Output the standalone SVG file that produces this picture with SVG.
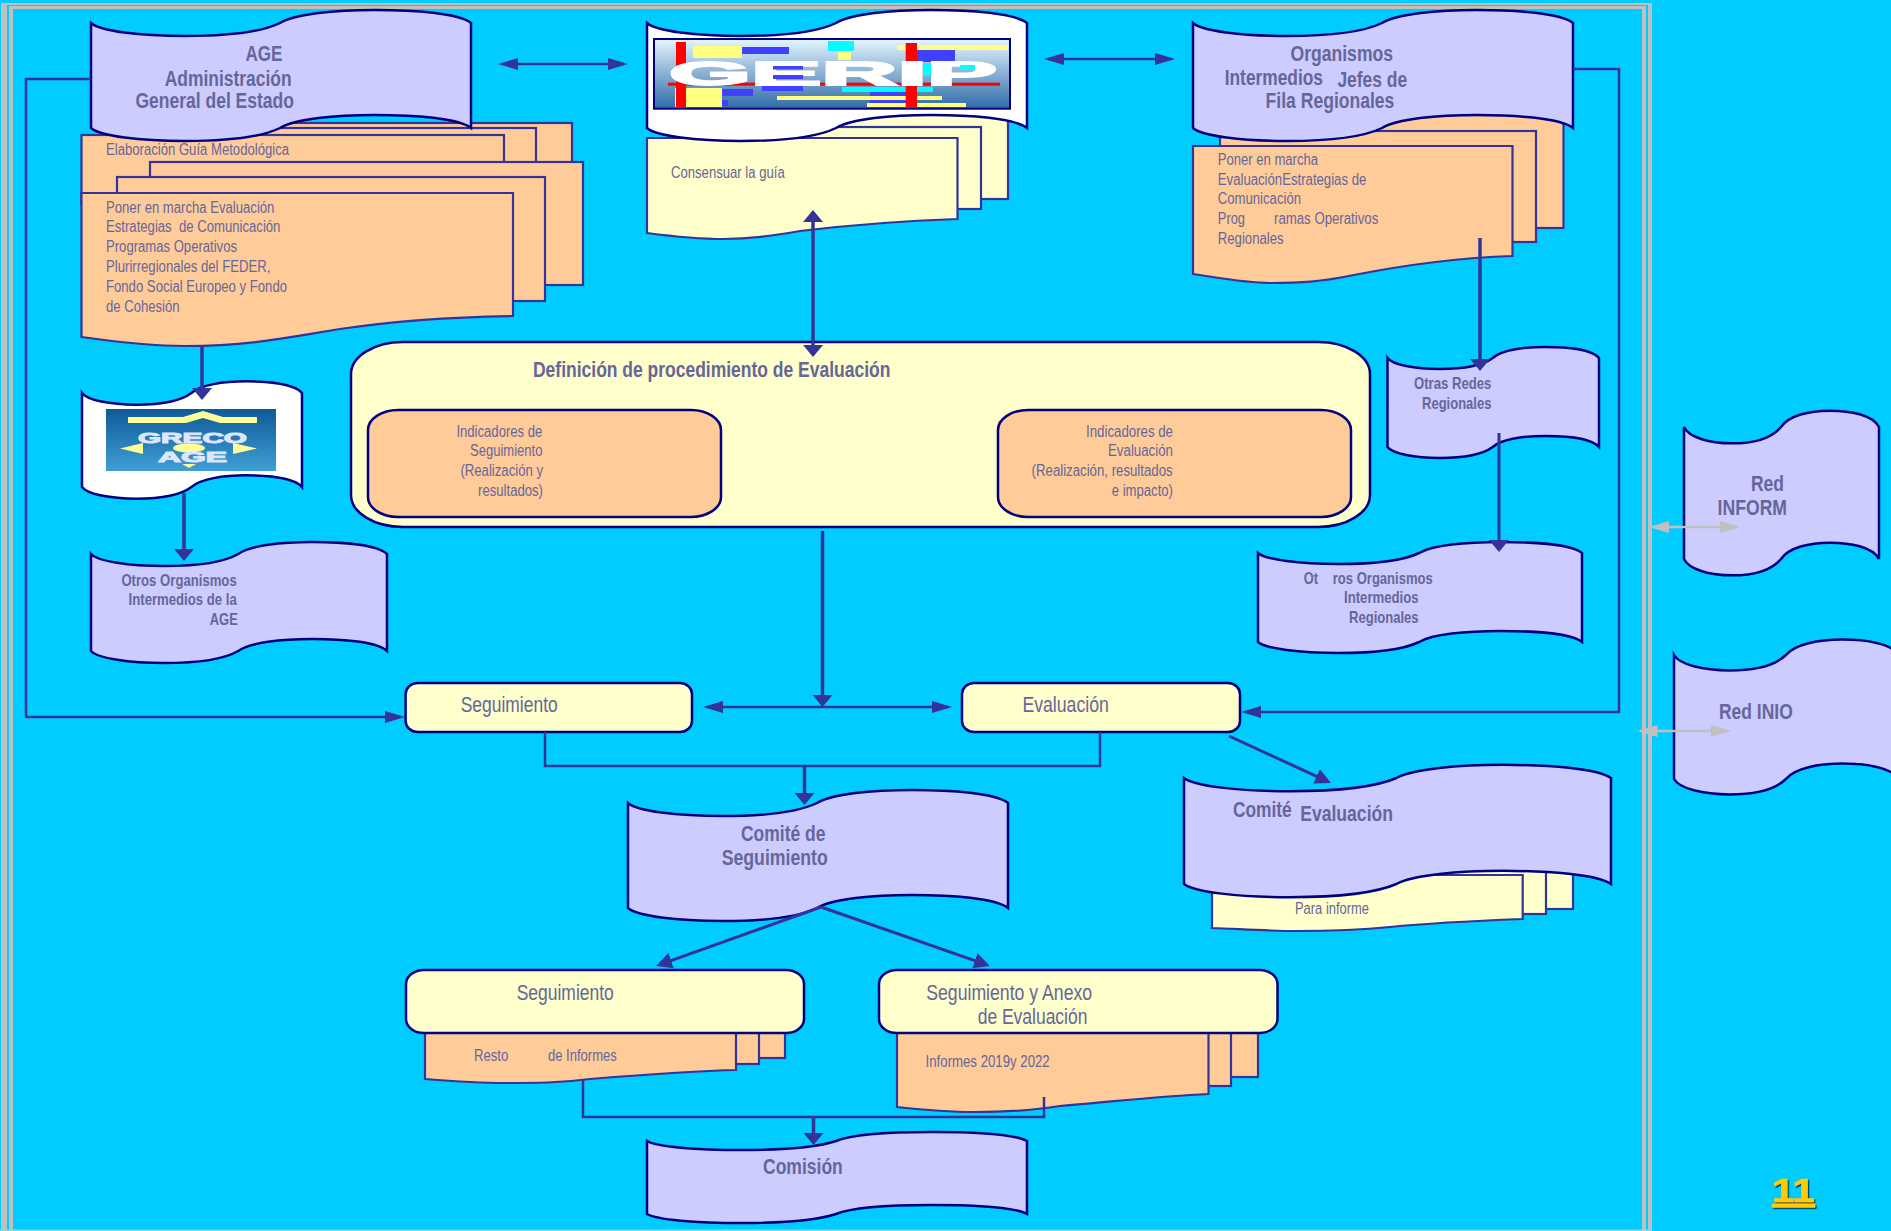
<svg xmlns="http://www.w3.org/2000/svg" width="1891" height="1231" viewBox="0 0 1891 1231">
<style>
text{font-family:"Liberation Sans",Arial,sans-serif;fill:#666699;white-space:pre}
.h{font-size:22px;font-weight:bold}
.m{font-size:17px;font-weight:bold}
.d{font-size:22px}
.s{font-size:16px}
.lav{fill:#ccccff;stroke:#000080;stroke-width:2.5}
.wht{fill:#ffffff;stroke:#000080;stroke-width:2.5}
.org{fill:#ffcc99;stroke:#333399;stroke-width:2.2}
.yel{fill:#ffffcc;stroke:#333399;stroke-width:2.2}
.box-y{fill:#ffffcc;stroke:#000080;stroke-width:2.5}
.box-o{fill:#ffcc99;stroke:#000080;stroke-width:2.5}
.c{fill:none;stroke:#333399;stroke-width:2.5}
.t{fill:none;stroke:#333399;stroke-width:3.5}
.g{fill:none;stroke:#c0c0c0;stroke-width:2.5}
.fr{fill:#c0c0c0}
</style>
<defs>
<path id="wave" vector-effect="non-scaling-stroke" d="M0,0c2.4,7.7 12.8,12.4 24.74,12.4c10.5,0 19.7,-3.1 25,-12.4c4,-8.7 14.5,-12.4 25,-12.4c10.5,0 22,3.1 25.26,12.4v100c-3.3,-9.3 -14.8,-12.4 -25.26,-12.4c-10.5,0 -21,3.7 -25,12.4c-5.3,9.3 -14.5,12.4 -25,12.4c-11.9,0 -22.3,-4.7 -24.74,-12.4z"/>
<marker id="hv" markerUnits="userSpaceOnUse" markerWidth="12" markerHeight="20" refX="8" refY="10" orient="auto-start-reverse"><path d="M0,0L12,10L0,20z" fill="#333399"/></marker>
<marker id="hh" markerUnits="userSpaceOnUse" markerWidth="20" markerHeight="12" refX="16" refY="6" orient="auto-start-reverse"><path d="M0,0L20,6L0,12z" fill="#333399"/></marker>
<marker id="hd" markerUnits="userSpaceOnUse" markerWidth="16" markerHeight="16" refX="12" refY="8" orient="auto-start-reverse"><path d="M0,0L16,8L0,16z" fill="#333399"/></marker>
<marker id="hg" markerUnits="userSpaceOnUse" markerWidth="20" markerHeight="12" refX="16" refY="6" orient="auto-start-reverse"><path d="M0,0L20,6L0,12z" fill="#c0c0c0"/></marker>
<linearGradient id="gerip" x1="0" y1="0" x2="0" y2="1"><stop offset="0" stop-color="#e4f6ff"/><stop offset=".55" stop-color="#7fa9cf"/><stop offset="1" stop-color="#2f6aa6"/></linearGradient>
<linearGradient id="greco" x1="0" y1="0" x2="0" y2="1"><stop offset="0" stop-color="#0f5a98"/><stop offset="1" stop-color="#3f9fd4"/></linearGradient>
<filter id="sh" x="-20%" y="-20%" width="140%" height="140%"><feDropShadow dx="1.3" dy="1.3" stdDeviation="0.2" flood-color="#003050"/></filter>
<filter id="gl" x="-5%" y="-10%" width="110%" height="120%"><feDropShadow dx="0" dy="0" stdDeviation="0.7" flood-color="#6f7f90"/></filter>
</defs>
<rect width="1891" height="1231" fill="#00ccff"/>
<g id="frame">
<path class="fr" d="M1,3H1652V1231H1648V5H7V1231H1z"/>
<path class="fr" d="M9,6H1646V1231H1642V9H13V1231H9z"/>
<rect x="0" y="1229.5" width="1652" height="1.5" fill="#7fd9f0"/>
</g>

<g id="node-age-docs">
<rect class="org" x="260" y="123" width="312" height="50"/>
<rect class="org" x="200" y="128" width="336" height="50"/>
<rect class="org" x="81.5" y="135" width="422.5" height="70"/>
<text class="s" x="106" y="155" textLength="183" lengthAdjust="spacingAndGlyphs">Elaboración Guía Metodológica</text>
<rect class="org" x="150" y="162" width="433" height="123"/>
<rect class="org" x="117" y="177" width="428" height="124"/>
<path class="org" d="M81.5,193H513V316C450,317 400,320 340,329C290,337 250,346 185,346C150,346 110,341 81.5,337Z"/>
<text class="s" x="106" y="213" textLength="168.4" lengthAdjust="spacingAndGlyphs">Poner en marcha Evaluación</text>
<text class="s" x="106" y="232.3" textLength="174.4" lengthAdjust="spacingAndGlyphs">Estrategias  de Comunicación</text>
<text class="s" x="106" y="252" textLength="131" lengthAdjust="spacingAndGlyphs">Programas Operativos</text>
<text class="s" x="106" y="272" textLength="164.4" lengthAdjust="spacingAndGlyphs">Plurirregionales del FEDER,</text>
<text class="s" x="106" y="291.7" textLength="181" lengthAdjust="spacingAndGlyphs">Fondo Social Europeo y Fondo</text>
<text class="s" x="106" y="311.7" textLength="73.6" lengthAdjust="spacingAndGlyphs">de Cohesión</text>
</g>
<g id="node-age">
<use href="#wave" class="lav" transform="translate(91,23) scale(3.8,1.05)"/>
<text class="h" x="245.5" y="61" textLength="37" lengthAdjust="spacingAndGlyphs">AGE</text>
<text class="h" x="164.7" y="85.7" textLength="127" lengthAdjust="spacingAndGlyphs">Administración</text>
<text class="h" x="135.4" y="108" textLength="158.6" lengthAdjust="spacingAndGlyphs">General del Estado</text>
</g>

<g id="node-gerip-docs">
<rect class="yel" x="760" y="110" width="248" height="89"/>
<rect class="yel" x="700" y="127" width="281" height="82"/>
<path class="yel" d="M647,138H957.5V219C900,221 850,225 800,231C770,236 750,239 724,239C700,239 670,236 647,233Z"/>
<text class="s" x="671" y="178.3" textLength="113.7" lengthAdjust="spacingAndGlyphs">Consensuar la guía</text>
</g>
<g id="node-gerip">
<use href="#wave" class="wht" transform="translate(647,23) scale(3.8,1.05)"/>
<g id="gerip-logo">
<rect x="654" y="39" width="356" height="69.7" fill="url(#gerip)"/>
<rect x="693" y="46" width="49" height="12" fill="#ffff80"/>
<rect x="742" y="47" width="47" height="7" fill="#4040ff"/>
<rect x="828" y="41" width="26" height="10" fill="#00ffff"/>
<rect x="838" y="51" width="13" height="9" fill="#ffff80"/>
<rect x="897" y="45" width="111" height="5" fill="#ffff80"/>
<rect x="917" y="50" width="38" height="12" fill="#4040ff"/>
<rect x="923" y="63" width="14" height="13" fill="#00ffff"/>
<rect x="675" y="88" width="47" height="19" fill="#ffff80"/>
<rect x="722" y="89" width="31" height="7" fill="#4040ff"/>
<rect x="762" y="86" width="41" height="5" fill="#4040ff"/>
<rect x="842" y="87" width="91" height="5" fill="#00ffff"/>
<rect x="870" y="92" width="37" height="4" fill="#4040ff"/>
<rect x="777" y="96" width="165" height="4" fill="#ffff80"/>
<rect x="870" y="100" width="37" height="3" fill="#4040ff"/>
<rect x="867" y="103" width="99" height="4" fill="#ffff80"/>
<rect x="722" y="100" width="6" height="6" fill="#4040ff"/>
<rect x="668" y="82.7" width="332" height="3" fill="#ff0000"/>
<rect x="676" y="42" width="10" height="65" fill="#ff0000"/>
<rect x="905.7" y="43" width="11.3" height="64" fill="#ff0000"/>
<text x="669" y="85" font-size="34" font-weight="bold" style="fill:#ffffff;stroke:#ffffff;stroke-width:1.8" filter="url(#gl)" textLength="328" lengthAdjust="spacingAndGlyphs">GERIP</text>
<rect x="773" y="66" width="30" height="3.5" fill="#4040ff"/>
<rect x="773" y="75" width="30" height="4" fill="#4040ff"/>
<rect x="960" y="65" width="15" height="5" fill="#00ffff"/>
<rect x="654" y="39" width="356" height="69.7" fill="none" stroke="#000080" stroke-width="2"/>
</g>
</g>

<g id="node-org-docs">
<rect class="org" x="1300" y="115" width="263.5" height="113"/>
<rect class="org" x="1220" y="131" width="316" height="111"/>
<path class="org" d="M1193,146H1512.5V256C1450,258 1400,266 1354,275C1320,282 1300,283 1271,283C1245,283 1220,278 1193,274Z"/>
<text class="s" x="1217.8" y="165.3" textLength="100.2" lengthAdjust="spacingAndGlyphs">Poner en marcha</text>
<text class="s" x="1217.8" y="185" textLength="148.5" lengthAdjust="spacingAndGlyphs">EvaluaciónEstrategias de</text>
<text class="s" x="1217.8" y="204" textLength="83.2" lengthAdjust="spacingAndGlyphs">Comunicación</text>
<text class="s" x="1217.8" y="224" textLength="27.2" lengthAdjust="spacingAndGlyphs">Prog</text>
<text class="s" x="1274" y="224" textLength="104.3" lengthAdjust="spacingAndGlyphs">ramas Operativos</text>
<text class="s" x="1217.8" y="243.5" textLength="65.8" lengthAdjust="spacingAndGlyphs">Regionales</text>
</g>
<g id="node-org">
<use href="#wave" class="lav" transform="translate(1193,23) scale(3.8,1.05)"/>
<text class="h" x="1290.5" y="61" textLength="102.5" lengthAdjust="spacingAndGlyphs">Organismos</text>
<text class="h" x="1224.7" y="85" textLength="98.3" lengthAdjust="spacingAndGlyphs">Intermedios</text>
<text class="h" x="1337.4" y="87" textLength="69.8" lengthAdjust="spacingAndGlyphs">Jefes de</text>
<text class="h" x="1265.6" y="108" textLength="128.8" lengthAdjust="spacingAndGlyphs">Fila Regionales</text>
</g>

<g id="node-definicion">
<rect class="box-y" x="351" y="342" width="1019" height="185" rx="52" ry="32"/>
<text class="h" x="533" y="377.3" textLength="357.4" lengthAdjust="spacingAndGlyphs">Definición de procedimiento de Evaluación</text>
</g>
<g id="node-ind-seg">
<rect class="box-o" x="368" y="410" width="353" height="107" rx="30" ry="20"/>
<text class="s" x="456.4" y="437.3" textLength="86" lengthAdjust="spacingAndGlyphs">Indicadores de</text>
<text class="s" x="470" y="456" textLength="72.4" lengthAdjust="spacingAndGlyphs">Seguimiento</text>
<text class="s" x="460.4" y="476" textLength="82.6" lengthAdjust="spacingAndGlyphs">(Realización y</text>
<text class="s" x="478" y="496" textLength="65" lengthAdjust="spacingAndGlyphs">resultados)</text>
</g>
<g id="node-ind-eval">
<rect class="box-o" x="998" y="410" width="353" height="107" rx="30" ry="20"/>
<text class="s" x="1086" y="437.3" textLength="87" lengthAdjust="spacingAndGlyphs">Indicadores de</text>
<text class="s" x="1108" y="456.3" textLength="65" lengthAdjust="spacingAndGlyphs">Evaluación</text>
<text class="s" x="1031.6" y="476" textLength="141" lengthAdjust="spacingAndGlyphs">(Realización, resultados</text>
<text class="s" x="1111.7" y="496" textLength="61.3" lengthAdjust="spacingAndGlyphs">e impacto)</text>
</g>

<g id="node-greco">
<use href="#wave" class="wht" transform="translate(82,393) scale(2.2,.94)"/>
<g id="greco-logo">
<rect x="106" y="409" width="170" height="62" fill="url(#greco)"/>
<path d="M128,417H183L203,411L223,417H257V423H220L203,418L186,423H128z" fill="#ffff99"/>
<path d="M120,448.5L143,443V454zM257,448.5L233,443V454z" fill="#ffff99"/>
<ellipse cx="189" cy="448" rx="16" ry="4.5" fill="#ffff99"/>
<path d="M182,464H196L189,468z" fill="#ffff99"/>
<text x="138" y="443" font-size="15" font-weight="bold" style="fill:#dde6ff;stroke:#dde6ff;stroke-width:1" textLength="109" lengthAdjust="spacingAndGlyphs">GRECO</text>
<text x="158" y="462" font-size="15" font-weight="bold" style="fill:#dde6ff;stroke:#dde6ff;stroke-width:1" textLength="69" lengthAdjust="spacingAndGlyphs">AGE</text>
</g>
</g>
<g id="node-otros-age">
<use href="#wave" class="lav" transform="translate(91,554) scale(2.96,.97)"/>
<text class="m" x="121.4" y="586" textLength="115.3" lengthAdjust="spacingAndGlyphs">Otros Organismos</text>
<text class="m" x="128.6" y="605.3" textLength="108.1" lengthAdjust="spacingAndGlyphs">Intermedios de la</text>
<text class="m" x="209.7" y="625" textLength="28.1" lengthAdjust="spacingAndGlyphs">AGE</text>
</g>
<g id="node-otras-redes">
<use href="#wave" class="lav" transform="translate(1387.5,358) scale(2.115,.89)"/>
<text class="m" x="1414" y="389" textLength="77.4" lengthAdjust="spacingAndGlyphs">Otras Redes</text>
<text class="m" x="1422" y="409" textLength="69.4" lengthAdjust="spacingAndGlyphs">Regionales</text>
</g>
<g id="node-otros-reg">
<use href="#wave" class="lav" transform="translate(1258,553) scale(3.24,.89)"/>
<text class="m" x="1303.7" y="584" textLength="14.3" lengthAdjust="spacingAndGlyphs">Ot</text>
<text class="m" x="1332.8" y="584" textLength="99.9" lengthAdjust="spacingAndGlyphs">ros Organismos</text>
<text class="m" x="1344" y="603" textLength="74.6" lengthAdjust="spacingAndGlyphs">Intermedios</text>
<text class="m" x="1349" y="622.7" textLength="69.6" lengthAdjust="spacingAndGlyphs">Regionales</text>
</g>
<g id="node-inform">
<use href="#wave" class="lav" transform="translate(1684,427) scale(1.95,1.32)"/>
<text class="h" x="1751" y="490.7" textLength="33" lengthAdjust="spacingAndGlyphs">Red</text>
<text class="h" x="1717.6" y="514.7" textLength="69.4" lengthAdjust="spacingAndGlyphs">INFORM</text>
</g>
<g id="node-inio">
<use href="#wave" class="lav" transform="translate(1674,655) scale(2.25,1.24)"/>
<text class="h" x="1719" y="718.7" textLength="73.8" lengthAdjust="spacingAndGlyphs">Red INIO</text>
</g>

<g id="node-seguimiento">
<rect class="box-y" x="405.6" y="683" width="286.4" height="49" rx="12" ry="11"/>
<text class="d" x="460.7" y="711.7" textLength="97" lengthAdjust="spacingAndGlyphs">Seguimiento</text>
</g>
<g id="node-evaluacion">
<rect class="box-y" x="962" y="683" width="278" height="49" rx="12" ry="11"/>
<text class="d" x="1022.4" y="711.7" textLength="86.4" lengthAdjust="spacingAndGlyphs">Evaluación</text>
</g>

<g id="node-para-informe">
<rect class="yel" x="1300" y="860" width="273" height="49"/>
<rect class="yel" x="1280" y="865" width="266" height="49"/>
<path class="yel" d="M1212,875H1522.7V919C1470,921 1430,923 1390,927C1360,930 1330,931 1297,931C1265,931 1240,929 1212,928Z"/>
<text class="s" x="1295" y="914" textLength="74" lengthAdjust="spacingAndGlyphs">Para informe</text>
</g>
<g id="node-comite-eval">
<use href="#wave" class="lav" transform="translate(1184,778) scale(4.27,1.06)"/>
<text class="h" x="1232.9" y="816.7" textLength="58.8" lengthAdjust="spacingAndGlyphs">Comité</text>
<text class="h" x="1300.2" y="821.3" textLength="92.8" lengthAdjust="spacingAndGlyphs">Evaluación</text>
</g>
<g id="node-comite-seg">
<use href="#wave" class="lav" transform="translate(628,803) scale(3.8,1.05)"/>
<text class="h" x="741" y="841" textLength="84.4" lengthAdjust="spacingAndGlyphs">Comité de</text>
<text class="h" x="721.7" y="865" textLength="106.1" lengthAdjust="spacingAndGlyphs">Seguimiento</text>
</g>

<g id="node-resto">
<rect class="org" x="600" y="1020" width="185" height="38"/>
<rect class="org" x="560" y="1020" width="199" height="44"/>
<path class="org" d="M425,1020H736V1070C690,1071 640,1075 590,1079C560,1083 535,1083 506,1083C475,1083 450,1081 425,1079Z"/>
<text class="s" x="474" y="1061" textLength="34.3" lengthAdjust="spacingAndGlyphs">Resto</text>
<text class="s" x="547.9" y="1061" textLength="68.9" lengthAdjust="spacingAndGlyphs">de Informes</text>
</g>
<g id="node-seg2">
<rect class="box-y" x="406" y="970" width="398" height="63" rx="18" ry="14"/>
<text class="d" x="516.7" y="1000" textLength="97.1" lengthAdjust="spacingAndGlyphs">Seguimiento</text>
</g>
<g id="node-informes">
<rect class="org" x="1080" y="1020" width="178" height="57"/>
<rect class="org" x="1040" y="1020" width="191" height="66"/>
<path class="org" d="M897,1020H1208.5V1094C1160,1096 1110,1102 1060,1106C1030,1111 1005,1112 973.5,1112C950,1112 925,1110 897,1107Z"/>
<text class="s" x="925.6" y="1066.7" textLength="124.1" lengthAdjust="spacingAndGlyphs">Informes 2019y 2022</text>
</g>
<g id="node-seg-anexo">
<rect class="box-y" x="879" y="970" width="398.5" height="63" rx="18" ry="14"/>
<text class="d" x="926.2" y="1000" textLength="166" lengthAdjust="spacingAndGlyphs">Seguimiento y Anexo</text>
<text class="d" x="977.7" y="1024" textLength="109.7" lengthAdjust="spacingAndGlyphs">de Evaluación</text>
</g>
<g id="node-comision">
<use href="#wave" class="lav" transform="translate(647,1141) scale(3.8,.73)"/>
<text class="h" x="763" y="1174" textLength="79.8" lengthAdjust="spacingAndGlyphs">Comisión</text>
</g>

<g id="connectors">
<path class="c" d="M502,64H624" marker-start="url(#hh)" marker-end="url(#hh)"/>
<path class="c" d="M1048,59H1171" marker-start="url(#hh)" marker-end="url(#hh)"/>
<path class="t" d="M813,214V353" marker-start="url(#hv)" marker-end="url(#hv)"/>
<path class="t" d="M202,347V396" marker-end="url(#hv)"/>
<path class="t" d="M184,493V557" marker-end="url(#hv)"/>
<path class="t" d="M1480,238V367" marker-end="url(#hv)"/>
<path class="c" style="stroke-width:3" d="M1499,433V548" marker-end="url(#hv)"/>
<path class="t" d="M822.5,531V703" marker-end="url(#hv)"/>
<path class="c" d="M707,707H948" marker-start="url(#hh)" marker-end="url(#hh)"/>
<path class="c" d="M91,79H26V717H401" marker-end="url(#hh)"/>
<path class="c" d="M1573,69H1619V712H1245" marker-end="url(#hh)"/>
<path class="c" d="M545,732V766H1100V732"/>
<path class="t" d="M804.5,766V801" marker-end="url(#hv)"/>
<path class="t" style="stroke-width:3" d="M1229,736L1327.4,781.3" marker-end="url(#hd)"/>
<path class="t" style="stroke-width:3" d="M821,907L659.8,964.7" marker-end="url(#hd)"/>
<path class="t" style="stroke-width:3" d="M821,907L986.2,964.7" marker-end="url(#hd)"/>
<path class="c" d="M583,1079V1117H1044V1097"/>
<path class="t" d="M813.5,1117V1141" marker-end="url(#hv)"/>
<path class="g" d="M1653,527H1736" marker-start="url(#hg)" marker-end="url(#hg)"/>
<path class="g" d="M1641.5,731H1727" marker-start="url(#hg)" marker-end="url(#hg)"/>
</g>

<text id="page-number" x="1772" y="1202" font-size="33" font-weight="bold" text-decoration="underline" style="fill:#ffcc00;stroke:#ffcc00;stroke-width:.5" filter="url(#sh)" textLength="43" lengthAdjust="spacingAndGlyphs">11</text>
</svg>
